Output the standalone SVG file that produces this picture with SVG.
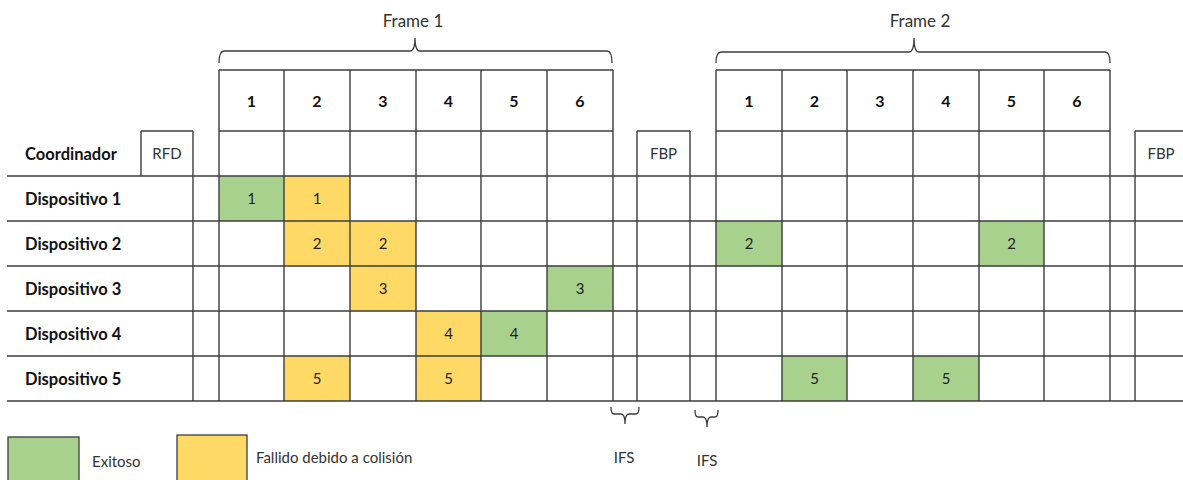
<svg xmlns="http://www.w3.org/2000/svg" width="1183" height="480" viewBox="0 0 1183 480">
  <style>
    .ln { stroke: #3c3c3c; stroke-width: 1.4; fill: none; }
    .br { stroke: #3c3c3c; stroke-width: 1.3; fill: none; }
    .ok { fill: #a9d18e; }
    .ko { fill: #ffd966; }
    .lbl { font-family: Lato, "Liberation Sans", sans-serif; font-size: 16.5px; font-weight: bold; fill: #111; }
    .hd { font-family: Lato, "Liberation Sans", sans-serif; font-size: 16px; font-weight: bold; fill: #111; text-anchor: middle; }
    .cl { font-family: Lato, "Liberation Sans", sans-serif; font-size: 15px; fill: #222; text-anchor: middle; }
    .tx { font-family: Lato, "Liberation Sans", sans-serif; font-size: 15px; fill: #333; }
    .ft { font-family: Lato, "Liberation Sans", sans-serif; font-size: 17px; fill: #333; text-anchor: middle; }
  </style>
  <rect width="1183" height="480" fill="#fff"/>

  <!-- slot fills -->
  <g id="slots">
    <rect class="ok" x="219" y="176" width="65" height="45"/>
    <rect class="ko" x="284" y="176" width="66" height="45"/>
    <rect class="ko" x="284" y="221" width="66" height="45"/>
    <rect class="ko" x="350" y="221" width="66" height="45"/>
    <rect class="ok" x="716" y="221" width="66" height="45"/>
    <rect class="ok" x="979" y="221" width="65" height="45"/>
    <rect class="ko" x="350" y="266" width="66" height="45"/>
    <rect class="ok" x="547" y="266" width="66" height="45"/>
    <rect class="ko" x="416" y="311" width="65" height="45"/>
    <rect class="ok" x="481" y="311" width="66" height="45"/>
    <rect class="ko" x="284" y="356" width="66" height="45"/>
    <rect class="ko" x="416" y="356" width="65" height="45"/>
    <rect class="ok" x="782" y="356" width="65" height="45"/>
    <rect class="ok" x="913" y="356" width="66" height="45"/>
  </g>

  <!-- grid lines -->
  <g id="grid" class="ln">
    <!-- horizontal -->
    <line x1="219" y1="70" x2="613" y2="70"/>
    <line x1="716" y1="70" x2="1110" y2="70"/>
    <line x1="219" y1="131" x2="613" y2="131"/>
    <line x1="716" y1="131" x2="1110" y2="131"/>
    <line x1="141" y1="131" x2="193" y2="131"/>
    <line x1="637" y1="131" x2="690" y2="131"/>
    <line x1="1135" y1="131" x2="1183" y2="131"/>
    <line x1="7" y1="176" x2="1183" y2="176"/>
    <line x1="7" y1="221" x2="1183" y2="221"/>
    <line x1="7" y1="266" x2="1183" y2="266"/>
    <line x1="7" y1="311" x2="1183" y2="311"/>
    <line x1="7" y1="356" x2="1183" y2="356"/>
    <line x1="7" y1="401" x2="1183" y2="401"/>
    <!-- vertical -->
    <line x1="141" y1="131" x2="141" y2="176"/>
    <line x1="193" y1="131" x2="193" y2="401"/>
    <line x1="219" y1="70" x2="219" y2="401"/>
    <line x1="284" y1="70" x2="284" y2="401"/>
    <line x1="350" y1="70" x2="350" y2="401"/>
    <line x1="416" y1="70" x2="416" y2="401"/>
    <line x1="481" y1="70" x2="481" y2="401"/>
    <line x1="547" y1="70" x2="547" y2="401"/>
    <line x1="613" y1="70" x2="613" y2="401"/>
    <line x1="637" y1="131" x2="637" y2="401"/>
    <line x1="690" y1="131" x2="690" y2="401"/>
    <line x1="716" y1="70" x2="716" y2="401"/>
    <line x1="782" y1="70" x2="782" y2="401"/>
    <line x1="847" y1="70" x2="847" y2="401"/>
    <line x1="913" y1="70" x2="913" y2="401"/>
    <line x1="979" y1="70" x2="979" y2="401"/>
    <line x1="1044" y1="70" x2="1044" y2="401"/>
    <line x1="1110" y1="70" x2="1110" y2="401"/>
    <line x1="1135" y1="131" x2="1135" y2="401"/>
  </g>

  <!-- frame headers -->
  <g id="frame1">
    <text class="ft" x="413" y="27">Frame 1</text>
    <text class="hd" x="251.5" y="107">1</text>
    <text class="hd" x="317" y="107">2</text>
    <text class="hd" x="383" y="107">3</text>
    <text class="hd" x="448.5" y="107">4</text>
    <text class="hd" x="514" y="107">5</text>
    <text class="hd" x="580" y="107">6</text>
  </g>
  <g id="frame2">
    <text class="ft" x="920" y="27">Frame 2</text>
    <text class="hd" x="749" y="107">1</text>
    <text class="hd" x="814.5" y="107">2</text>
    <text class="hd" x="880" y="107">3</text>
    <text class="hd" x="946" y="107">4</text>
    <text class="hd" x="1011.5" y="107">5</text>
    <text class="hd" x="1077" y="107">6</text>
  </g>

  <!-- beacon / control boxes -->
  <g id="rfd"><text class="tx" x="167" y="159" text-anchor="middle">RFD</text></g>
  <g id="fbp1"><text class="tx" x="663.5" y="159" text-anchor="middle">FBP</text></g>
  <g id="fbp2"><text class="tx" x="1161" y="159" text-anchor="middle">FBP</text></g>

  <!-- row labels -->
  <g id="coordinador"><text class="lbl" x="25" y="160">Coordinador</text></g>
  <g id="dispositivo1">
    <text class="lbl" x="25" y="205">Dispositivo 1</text>
    <text class="cl" x="251.5" y="204">1</text>
    <text class="cl" x="317" y="204">1</text>
  </g>
  <g id="dispositivo2">
    <text class="lbl" x="25" y="250">Dispositivo 2</text>
    <text class="cl" x="317" y="249">2</text>
    <text class="cl" x="383" y="249">2</text>
    <text class="cl" x="749" y="249">2</text>
    <text class="cl" x="1011.5" y="249">2</text>
  </g>
  <g id="dispositivo3">
    <text class="lbl" x="25" y="295">Dispositivo 3</text>
    <text class="cl" x="383" y="294">3</text>
    <text class="cl" x="580" y="294">3</text>
  </g>
  <g id="dispositivo4">
    <text class="lbl" x="25" y="340">Dispositivo 4</text>
    <text class="cl" x="448.5" y="339">4</text>
    <text class="cl" x="514" y="339">4</text>
  </g>
  <g id="dispositivo5">
    <text class="lbl" x="25" y="385">Dispositivo 5</text>
    <text class="cl" x="317" y="384">5</text>
    <text class="cl" x="448.5" y="384">5</text>
    <text class="cl" x="814.5" y="384">5</text>
    <text class="cl" x="946" y="384">5</text>
  </g>

  <!-- braces -->
  <g id="braces" class="br">
    <path d="M219,63 Q219,51 224,51 L410,51 Q415,51 415,38 Q415,51 420,51 L607,51 Q612,51 612,63"/>
    <path d="M716,63 Q716,52 721,52 L909,52 Q914,52 914,38 Q914,52 919,52 L1105,52 Q1110,52 1110,63"/>
    <path d="M611,407 Q611,414 614,414 L621,414 Q625,414 625,424 Q625,414 629,414 L636,414 Q639,414 639,407"/>
    <path d="M695,410 Q695,417 698,417 L703,417 Q707,417 707,427 Q707,417 711,417 L715,417 Q718,417 718,410"/>
  </g>
  <g id="ifs-labels">
    <text class="tx" x="624" y="463" text-anchor="middle">IFS</text>
    <text class="tx" x="707" y="466" text-anchor="middle">IFS</text>
  </g>

  <!-- legend -->
  <g id="legend-ok">
    <rect class="ok" x="8" y="437" width="71" height="50" stroke="#3c3c3c" stroke-width="1.3"/>
    <text class="tx" x="92" y="467">Exitoso</text>
  </g>
  <g id="legend-ko">
    <rect class="ko" x="177" y="435" width="70" height="52" stroke="#3c3c3c" stroke-width="1.3"/>
    <text class="tx" x="256" y="463">Fallido debido a colisión</text>
  </g>
</svg>
